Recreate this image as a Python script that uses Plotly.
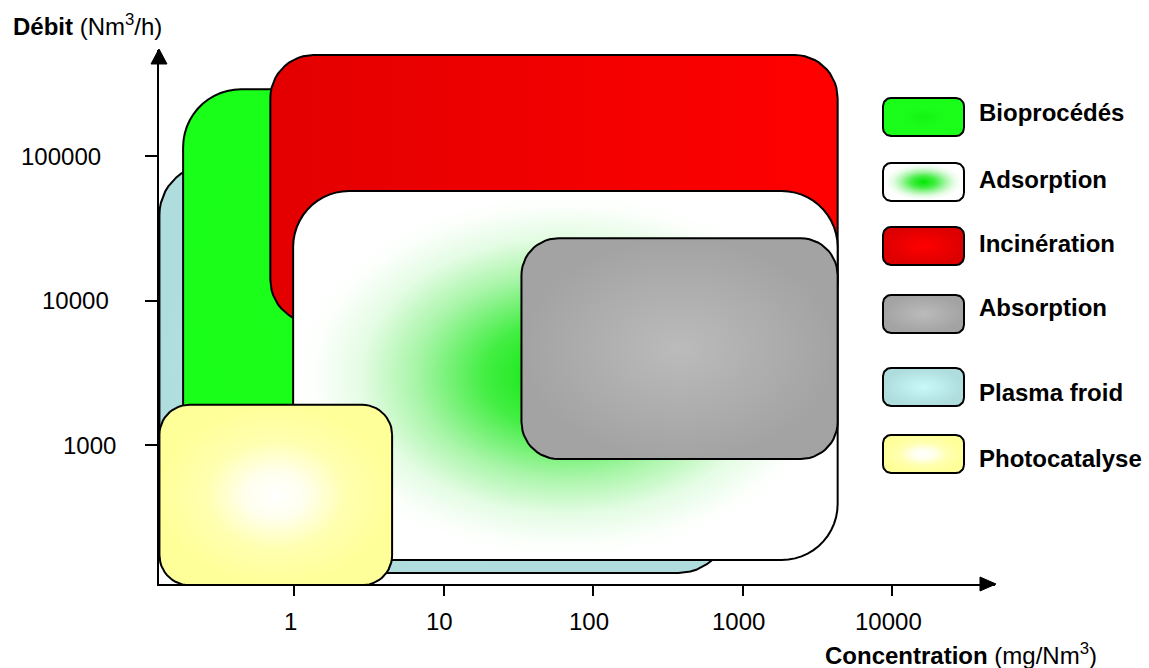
import numpy as np
import plotly.graph_objects as go

# ---------------- data ----------------
processes = ["Bioprocédés", "Adsorption", "Incinération", "Absorption", "Plasma froid", "Photocatalyse"]
conc_min = [0.18, 0.98, 0.69, 33, 0.125, 0.125]       # mg/Nm3
conc_max = [300, 4300, 4300, 4300, 800, 4.5]
flow_min = [500, 160, 7000, 800, 130, 107]            # Nm3/h
flow_max = [290000, 57300, 500000, 27000, 87000, 1900]
x_ticks = [1, 10, 100, 1000, 10000]
x_tick_text = ["1", "10", "100", "1000", "10000"]
y_ticks = [1000, 10000, 100000]
y_tick_text = ["1000", "10000", "100000"]

# ---------------- style ----------------
W, H = 1149, 668
ML, MR, MT, MB = 159, 154, 50, 84
XR = [-0.906, 4.686]
YR = [2.038, 5.734]
PW, PH = W - ML - MR, H - MT - MB
ppx = PW / (XR[1] - XR[0])
ppy = PH / (YR[1] - YR[0])
FONT = "Arial, 'Liberation Sans', sans-serif"
FS = 24

draw_order = ["Plasma froid", "Bioprocédés", "Incinération", "Adsorption", "Absorption", "Photocatalyse"]
radius_px = {"Plasma froid": 50, "Bioprocédés": 58, "Incinération": 43,
             "Adsorption": 56, "Absorption": 37, "Photocatalyse": 30}
box_grad = {
    "Bioprocédés": dict(type="radial", colorscale=[[0, "#14f414"], [0.5, "#1afd1a"], [1, "#1aff1a"]]),
    "Adsorption": dict(type="radial", colorscale=[[0, "#00e600"], [0.3, "#44ee44"], [0.55, "#a8f5a8"],
                                                  [0.75, "#e4fce4"], [0.92, "#fcfffc"], [1, "#ffffff"]]),
    "Incinération": dict(type="horizontal", colorscale=[[0, "#e30000"], [1, "#ff0000"]]),
    "Absorption": dict(type="radial", colorscale=[[0, "#bbbbbb"], [1, "#a3a3a3"]]),
    "Plasma froid": dict(type="radial", colorscale=[[0, "#c8fafa"], [1, "#afdcdc"]]),
    "Photocatalyse": dict(type="radial", colorscale=[[0, "#ffffff"], [0.25, "#ffffee"],
                                                     [0.6, "#ffffb0"], [1, "#ffff99"]]),
}
legend_grad = dict(box_grad)
legend_grad["Incinération"] = dict(type="radial", colorscale=[[0, "#ff0000"], [1, "#dd0000"]])

# legend layout (pixels)
LEG_X0, LEG_X1 = 883, 964
LEG_TOPS = [98, 163, 227, 295, 368, 435]
LEG_H = 38
LEG_TEXT_X = 977
LEG_TEXT_Y = [113, 179, 243, 307, 392, 458]
YTICK_RIGHT = [118, 111, 103]


def px_x(p):
    return (p - ML) / PW


def px_y(p):
    return (H - MB - p) / PH


def rr_path(u0, u1, v0, v1, ru, rv, n=14):
    corners = [(u1 - ru, v1 - rv, 0, 90), (u0 + ru, v1 - rv, 90, 180),
               (u0 + ru, v0 + rv, 180, 270), (u1 - ru, v0 + rv, 270, 360)]
    us, vs = [], []
    for cu, cv, a0, a1 in corners:
        t = np.radians(np.linspace(a0, a1, n))
        us.extend(cu + ru * np.cos(t))
        vs.extend(cv + rv * np.sin(t))
    us.append(us[0])
    vs.append(vs[0])
    return np.array(us), np.array(vs)


fig = go.Figure()

# main boxes on log-log axes
for name in draw_order:
    i = processes.index(name)
    lx0, lx1 = np.log10(conc_min[i]), np.log10(conc_max[i])
    ly0, ly1 = np.log10(flow_min[i]), np.log10(flow_max[i])
    r = radius_px[name]
    u, v = rr_path(lx0, lx1, ly0, ly1, r / ppx, r / ppy)
    fig.add_trace(go.Scatter(
        x=10 ** u, y=10 ** v, mode="lines", fill="toself",
        fillgradient=box_grad[name], fillcolor="rgba(0,0,0,0)",
        line=dict(color="black", width=2), hoverinfo="skip", showlegend=False,
        name=name))

# legend swatches (overlay axes in pixel units)
for k, name in enumerate(processes):
    top = LEG_TOPS[k]
    u, v = rr_path(LEG_X0, LEG_X1, top, top + LEG_H, 8, 8)
    fig.add_trace(go.Scatter(
        x=u, y=v, mode="lines", fill="toself", xaxis="x2", yaxis="y2",
        fillgradient=legend_grad[name], fillcolor="rgba(0,0,0,0)",
        line=dict(color="black", width=2), hoverinfo="skip", showlegend=False))

annotations = []
for k, name in enumerate(processes):
    annotations.append(dict(
        text="<b>%s</b>" % name, x=px_x(LEG_TEXT_X), y=px_y(LEG_TEXT_Y[k]),
        xref="paper", yref="paper", xanchor="left", yanchor="middle",
        showarrow=False, font=dict(family=FONT, size=FS, color="black")))

for t, lab in zip(x_ticks, x_tick_text):
    annotations.append(dict(
        text=lab, x=np.log10(t), y=px_y(621), xref="x", yref="paper",
        xanchor="center", yanchor="middle", xshift=-4, showarrow=False,
        font=dict(family=FONT, size=FS, color="black")))

for t, lab, rx in zip(y_ticks, y_tick_text, YTICK_RIGHT):
    annotations.append(dict(
        text=lab, x=px_x(rx), y=np.log10(t), xref="paper", yref="y",
        xanchor="right", yanchor="middle", showarrow=False,
        font=dict(family=FONT, size=FS, color="black")))

annotations.append(dict(
    text="<b>Débit</b> (Nm<sup>3</sup>/h)", x=px_x(11), y=px_y(25),
    xref="paper", yref="paper", xanchor="left", yanchor="middle", showarrow=False,
    font=dict(family=FONT, size=FS, color="black")))
annotations.append(dict(
    text="<b>Concentration</b> (mg/Nm<sup>3</sup>)", x=px_x(823), y=px_y(654),
    xref="paper", yref="paper", xanchor="left", yanchor="middle", showarrow=False,
    font=dict(family=FONT, size=FS, color="black")))

# arrow heads
ax_tip, ax_base, ax_half = px_x(996), px_x(980), 7 / PH
ay_tip, ay_base, ay_half = px_y(49), px_y(64), 8 / PW
shapes = [
    dict(type="path", xref="paper", yref="paper",
         path="M %f,%f L %f,%f L %f,%f Z" % (ax_tip, 0, ax_base, ax_half, ax_base, -ax_half),
         fillcolor="black", line=dict(color="black", width=1)),
    dict(type="path", xref="paper", yref="paper",
         path="M %f,%f L %f,%f L %f,%f Z" % (0, ay_tip, -ay_half, ay_base, ay_half, ay_base),
         fillcolor="black", line=dict(color="black", width=1)),
]

fig.update_layout(
    width=W, height=H, margin=dict(l=ML, r=MR, t=MT, b=MB, pad=0),
    paper_bgcolor="white", plot_bgcolor="white",
    font=dict(family=FONT, size=FS, color="black"),
    xaxis=dict(type="log", range=XR, tickvals=x_ticks, showticklabels=False,
               ticks="outside", ticklen=10, tickwidth=2, tickcolor="black",
               showline=True, linewidth=2, linecolor="black",
               showgrid=False, zeroline=False, fixedrange=True),
    yaxis=dict(type="log", range=YR, tickvals=y_ticks, showticklabels=False,
               ticks="outside", ticklen=12, tickwidth=2, tickcolor="black",
               showline=True, linewidth=2, linecolor="black",
               showgrid=False, zeroline=False, fixedrange=True),
    xaxis2=dict(overlaying="x", anchor="y2", range=[ML, W - MR], visible=False, fixedrange=True),
    yaxis2=dict(overlaying="y", anchor="x2", range=[H - MB, MT], visible=False, fixedrange=True),
    annotations=annotations, shapes=shapes,
)

fig.write_html("out.html", config={"displayModeBar": False},
               post_script="document.body.style.margin='0';document.body.style.overflow='hidden';")
